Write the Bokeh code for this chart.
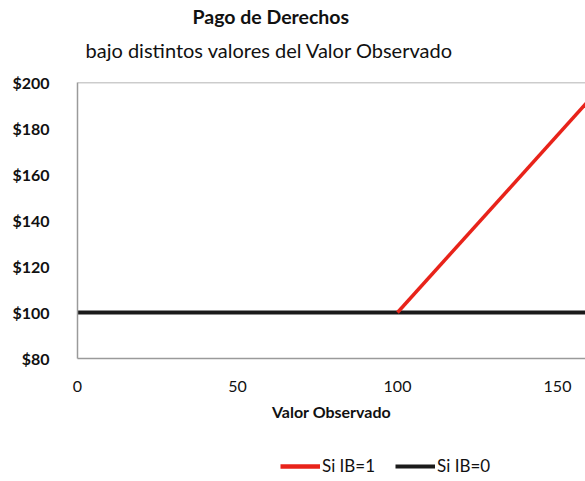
from bokeh.plotting import figure
from bokeh.layouts import column
from bokeh.models import (Title, Legend, LegendItem, FixedTicker, NumeralTickFormatter, Span, Range1d)
from bokeh.embed import file_html
from bokeh.resources import INLINE

# Data
x_obs = [0, 100, 160]
pago_ib0 = [100, 100, 100]
x_ib1 = [100, 160]
pago_ib1 = [100, 192.5]
x_ticks = [0, 50, 100, 150]
y_ticks = [80, 100, 120, 140, 160, 180, 200]

FONT = "Lato"
RED = "#e8231a"
BLACK = "#1a1a1a"

p = figure(frame_width=508, frame_height=276, output_backend="svg", toolbar_location=None,
           x_range=Range1d(0, 158.75), y_range=Range1d(80, 200),
           min_border_left=77, min_border_right=0, min_border_top=0, min_border_bottom=70,
           title=None)
p.outline_line_color = None
p.grid.grid_line_color = None
p.background_fill_color = "white"

for ax in (p.xaxis[0], p.yaxis[0]):
    ax.axis_line_color = "#9a9a9a"
    ax.axis_line_width = 1.5
    ax.major_tick_line_color = None
    ax.minor_tick_line_color = None
    ax.major_label_text_font = FONT
    ax.major_label_text_color = "#111111"

top_border = Span(location=200, dimension="width", line_color="#9a9a9a", line_width=1.5)
p.add_layout(top_border)

p.xaxis.ticker = FixedTicker(ticks=x_ticks)
p.yaxis.ticker = FixedTicker(ticks=y_ticks)
p.yaxis.formatter = NumeralTickFormatter(format="$0")
p.yaxis.major_label_text_font_size = "16px"
p.yaxis.major_label_text_font_style = "bold"
p.yaxis.major_label_standoff = 22
p.xaxis.major_label_text_font_size = "16px"
p.xaxis.major_label_standoff = 16
p.xaxis.axis_label = "Valor Observado"
p.xaxis.axis_label_text_font = FONT
p.xaxis.axis_label_text_font_size = "16px"
p.xaxis.axis_label_text_font_style = "bold"
p.xaxis.axis_label_text_color = "#111111"
p.xaxis.axis_label_standoff = 7

p.line(x_obs, pago_ib0, line_color=BLACK, line_width=4)
p.line(x_ib1, pago_ib1, line_color=RED, line_width=3.5)

sub = Title(text="bajo distintos valores del Valor Observado", align="left", offset=8,
            text_font=FONT, text_font_size="20px", text_font_style="normal",
            text_color="#111111", standoff=42)
p.add_layout(sub, "above")
main = Title(text="Pago de Derechos", align="left", offset=115,
             text_font=FONT, text_font_size="19.5px", text_font_style="bold",
             text_color="#111111", standoff=-26)
p.add_layout(main, "above")
filler = Title(text=" ", align="left", text_font=FONT, text_font_size="1px", standoff=11)
p.add_layout(filler, "above")

# Legend strip below the chart (same series, drawn outside its visible range)
leg = figure(width=585, height=52, output_backend="svg", toolbar_location=None,
             x_range=Range1d(-10, -9), y_range=Range1d(-10, -9),
             x_axis_type=None, y_axis_type=None,
             min_border_left=0, min_border_right=0, min_border_top=0, min_border_bottom=0)
leg.outline_line_color = None
leg.grid.grid_line_color = None
lr0 = leg.line(x_obs, pago_ib0, line_color=BLACK, line_width=4)
lr1 = leg.line(x_ib1, pago_ib1, line_color=RED, line_width=4.5)

legend = Legend(items=[LegendItem(label="Si IB=1", renderers=[lr1]),
                       LegendItem(label="Si IB=0", renderers=[lr0])],
                orientation="horizontal", location=(203, 4),
                border_line_color=None, background_fill_alpha=0,
                label_text_font=FONT, label_text_font_size="17px",
                label_text_color="#111111",
                glyph_width=40, label_standoff=2, spacing=20,
                margin=0, padding=0)
leg.add_layout(legend, "center")

layout = column(p, leg, spacing=0)
open("out.html", "w").write(file_html(layout, INLINE))
